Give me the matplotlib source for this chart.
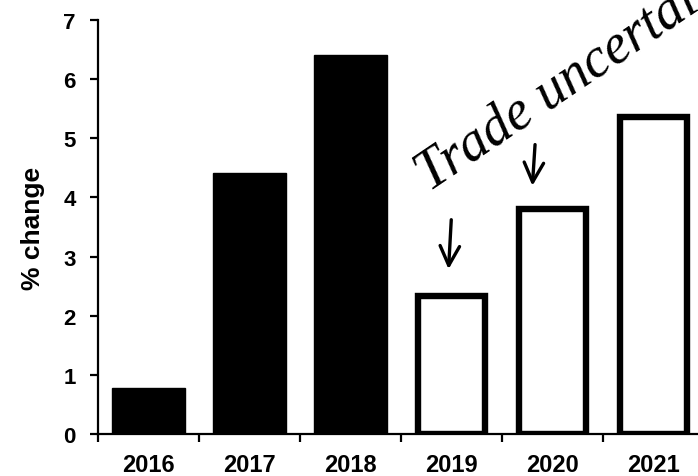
import matplotlib
matplotlib.use("Agg")
import matplotlib.pyplot as plt
import numpy as np

# data
years = ["2016", "2017", "2018", "2019", "2020", "2021"]
values = [0.78, 4.42, 6.4, 2.33, 3.8, 5.36]
filled = [True, True, True, False, False, False]
note = "Trade uncertainty"
arrow_years = ["2019", "2020"]

plt.rcParams["font.family"] = ["Liberation Sans", "DejaVu Sans"]

fig = plt.figure(figsize=(6.98, 4.77), dpi=100)
ax = fig.add_axes([0.1404, 0.088, 0.868, 0.868])

x = np.arange(len(years))
for xi, v, f in zip(x, values, filled):
    if f:
        ax.bar(xi, v, width=0.72, color="black", edgecolor="black", linewidth=1)
    else:
        ax.bar(xi, v, width=0.66, color="white", edgecolor="black", linewidth=4.6)

ax.set_xlim(-0.5, len(years) - 0.5)
ax.set_ylim(0, 7)
ax.set_yticks(range(0, 8))
ax.set_xticks(x)
ax.set_xticklabels(years)
ax.set_xticks(np.arange(-0.5, len(years), 1.0), minor=True)

for s in ["top", "right"]:
    ax.spines[s].set_visible(False)
for s in ["left", "bottom"]:
    ax.spines[s].set_linewidth(1.6)

ax.tick_params(axis="x", which="major", length=0, pad=14, labelsize=17)
ax.tick_params(axis="x", which="minor", length=6, width=1.6, direction="out")
ax.tick_params(axis="y", length=6, width=1.6, direction="out", pad=10, labelsize=16)
for lab in ax.get_xticklabels() + ax.get_yticklabels():
    lab.set_fontweight("bold")

ax.set_ylabel("% change", fontsize=19, fontweight="bold", labelpad=13)

# handwritten note (runs off the top-right edge, as in the original)
ax.text(2.78, 4.1, note, rotation=34, rotation_mode="anchor",
        ha="left", va="baseline", fontsize=40, fontstyle="italic",
        family=["Liberation Serif", "DejaVu Serif"], clip_on=False)

# arrows: (x shift, tip gap above bar, tail height above bar)
arrow_geom = {"2019": (0.0, 0.41, 1.34), "2020": (-0.17, 0.35, 1.14)}
for yr in arrow_years:
    i = years.index(yr)
    v = values[i]
    dx, gap, tail = arrow_geom[yr]
    ax.annotate("", xy=(i + dx - 0.03, v + gap), xytext=(i + dx, v + tail),
                arrowprops=dict(arrowstyle="->,head_length=0.7,head_width=0.35",
                                color="black", lw=2.4, mutation_scale=20))

fig.savefig("out.png", dpi=100)
